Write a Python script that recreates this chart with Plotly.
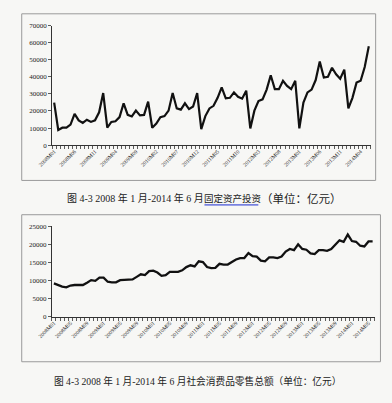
import plotly.graph_objects as go

W, H = 392, 403

# ---------------- data ----------------
months = [f"{y}M{m:02d}" for y in range(2008, 2015) for m in range(1, 13)][:78]

fai_values = [
    24900, 8900, 10200, 10200, 12000, 18300, 14500, 13000, 14900, 13600, 14500, 19200,
    30500, 10200, 13600, 14000, 16400, 24500, 17700, 16800, 20200, 17400, 17700, 25500,
    10200, 12600, 16400, 17000, 20200, 30500, 21500, 20800, 24500, 21100, 22600, 30500,
    9400, 17000, 21500, 23000, 27700, 33800, 27400, 27700, 30900, 28300, 27200, 31900,
    9800, 20200, 25800, 26800, 32500, 40900, 32800, 32800, 37700, 34700, 32800, 37700,
    9800, 24900, 30900, 32500, 38100, 48900, 39600, 40000, 45300, 41500, 38900, 44200,
    21500, 27700, 36600, 37700, 45700, 57900,
]

retail_values = [
    9200, 8750, 8300, 8100, 8600, 8750, 8750, 8750, 9400, 10100, 9900, 10800,
    10800, 9650, 9500, 9500, 10100, 10100, 10100, 10300, 11000, 11700, 11500, 12600,
    12700, 12200, 11300, 11500, 12400, 12400, 12400, 12800, 13700, 14200, 13900, 15300,
    15100, 13700, 13400, 13500, 14600, 14400, 14400, 15100, 15800, 16200, 16200, 17600,
    16700, 16600, 15500, 15300, 16400, 16400, 16200, 16600, 18000, 18700, 18400, 20000,
    18700, 18500, 17500, 17300, 18400, 18400, 18200, 18700, 20000, 21100, 20700, 22700,
    20900, 20700, 19600, 19400, 20800, 20800,
]

fai_tick_idx = list(range(0, 78, 5))
retail_tick_idx = list(range(0, 78, 4))

caption_top_prefix = "图 4-3 2008 年 1 月-2014 年 6 月"
caption_top_topic = "固定资产投资"
caption_top_unit = "（单位：亿元）"
caption_bottom = "图 4-3 2008 年 1 月-2014 年 6 月社会消费品零售总额（单位：亿元）"

# ---------------- helpers ----------------
def px_x(x):
    return x / W

def px_y(y):
    return 1 - y / H

SERIF = "Liberation Serif, 'Noto Sans CJK SC', serif"
BG = "#f7f7f5"

xi = list(range(78))

fig = go.Figure()
fig.add_trace(go.Scatter(x=xi, y=fai_values, mode="lines",
                         line=dict(color="#111111", width=2.2),
                         xaxis="x", yaxis="y", showlegend=False, hoverinfo="skip"))
fig.add_trace(go.Scatter(x=xi, y=retail_values, mode="lines",
                         line=dict(color="#111111", width=2.3),
                         xaxis="x2", yaxis="y2", showlegend=False, hoverinfo="skip"))

def xaxis_cfg(dom, anchor, tick_idx):
    return dict(
        domain=dom, anchor=anchor, range=[-0.5, 77.5],
        tickmode="array", tickvals=tick_idx, ticktext=[months[i] for i in tick_idx],
        tickangle=-45, tickfont=dict(family=SERIF, size=5.5, color="#222"),
        ticks="", showgrid=False, zeroline=False,
        showline=True, linecolor="#333", linewidth=1,
        minor=dict(tickmode="linear", tick0=-0.5, dtick=1, ticks="outside",
                   ticklen=3, tickcolor="#333", tickwidth=0.8, showgrid=False),
        fixedrange=True,
    )

def yaxis_cfg(dom, anchor, rng, dtick):
    return dict(
        domain=dom, anchor=anchor, range=rng, dtick=dtick, tick0=0,
        tickformat="d", exponentformat="none",
        tickfont=dict(family=SERIF, size=7, color="#222"),
        ticks="outside", ticklen=3, tickcolor="#333", tickwidth=0.8,
        showgrid=False, zeroline=False,
        showline=True, linecolor="#333", linewidth=1,
        fixedrange=True,
    )

fig.update_layout(
    width=W, height=H,
    margin=dict(l=0, r=0, t=0, b=0),
    paper_bgcolor=BG, plot_bgcolor=BG,
    xaxis=xaxis_cfg([px_x(38.6), px_x(370)], "y", fai_tick_idx),
    yaxis=yaxis_cfg([px_y(144), px_y(22)], "x", [0, 70000], 10000),
    xaxis2=xaxis_cfg([px_x(38.3), px_x(374)], "y2", retail_tick_idx),
    yaxis2=yaxis_cfg([px_y(319), px_y(226.7)], "x2", [0, 25000], 5000),
)

# chart-area frames
fig.add_shape(type="rect", xref="paper", yref="paper",
              x0=px_x(7), x1=px_x(375), y0=px_y(180), y1=px_y(10),
              line=dict(color="#9a9a9a", width=1), layer="below")
fig.add_shape(type="rect", xref="paper", yref="paper",
              x0=px_x(7), x1=px_x(380), y0=px_y(365), y1=px_y(215),
              line=dict(color="#9a9a9a", width=1), layer="below")

# captions
common = dict(xref="paper", yref="paper", showarrow=False, borderpad=0,
              borderwidth=0, yanchor="middle")
fig.add_annotation(text=caption_top_prefix, x=px_x(197), y=px_y(198),
                   xanchor="right", font=dict(family=SERIF, size=10, color="#222"),
                   **common)
fig.add_annotation(text=caption_top_topic, x=px_x(197), y=px_y(198),
                   xanchor="left", font=dict(family=SERIF, size=9.5, color="#222"),
                   **common)
fig.add_annotation(text=caption_top_unit, x=px_x(256), y=px_y(198),
                   xanchor="left", font=dict(family=SERIF, size=11.5, color="#222"),
                   **common)
fig.add_annotation(text=caption_bottom, x=px_x(190), y=px_y(385),
                   xanchor="center", font=dict(family=SERIF, size=9.7, color="#222"),
                   **common)
# blue underline under the topic words
fig.add_shape(type="line", xref="paper", yref="paper",
              x0=px_x(197), x1=px_x(253), y0=px_y(205), y1=px_y(205),
              line=dict(color="#1a2bd0", width=1))

fig.write_html(
    "out.html",
    config={"displayModeBar": False, "staticPlot": True},
    post_script="document.body.style.margin='0';document.body.style.background='%s';" % BG,
)
